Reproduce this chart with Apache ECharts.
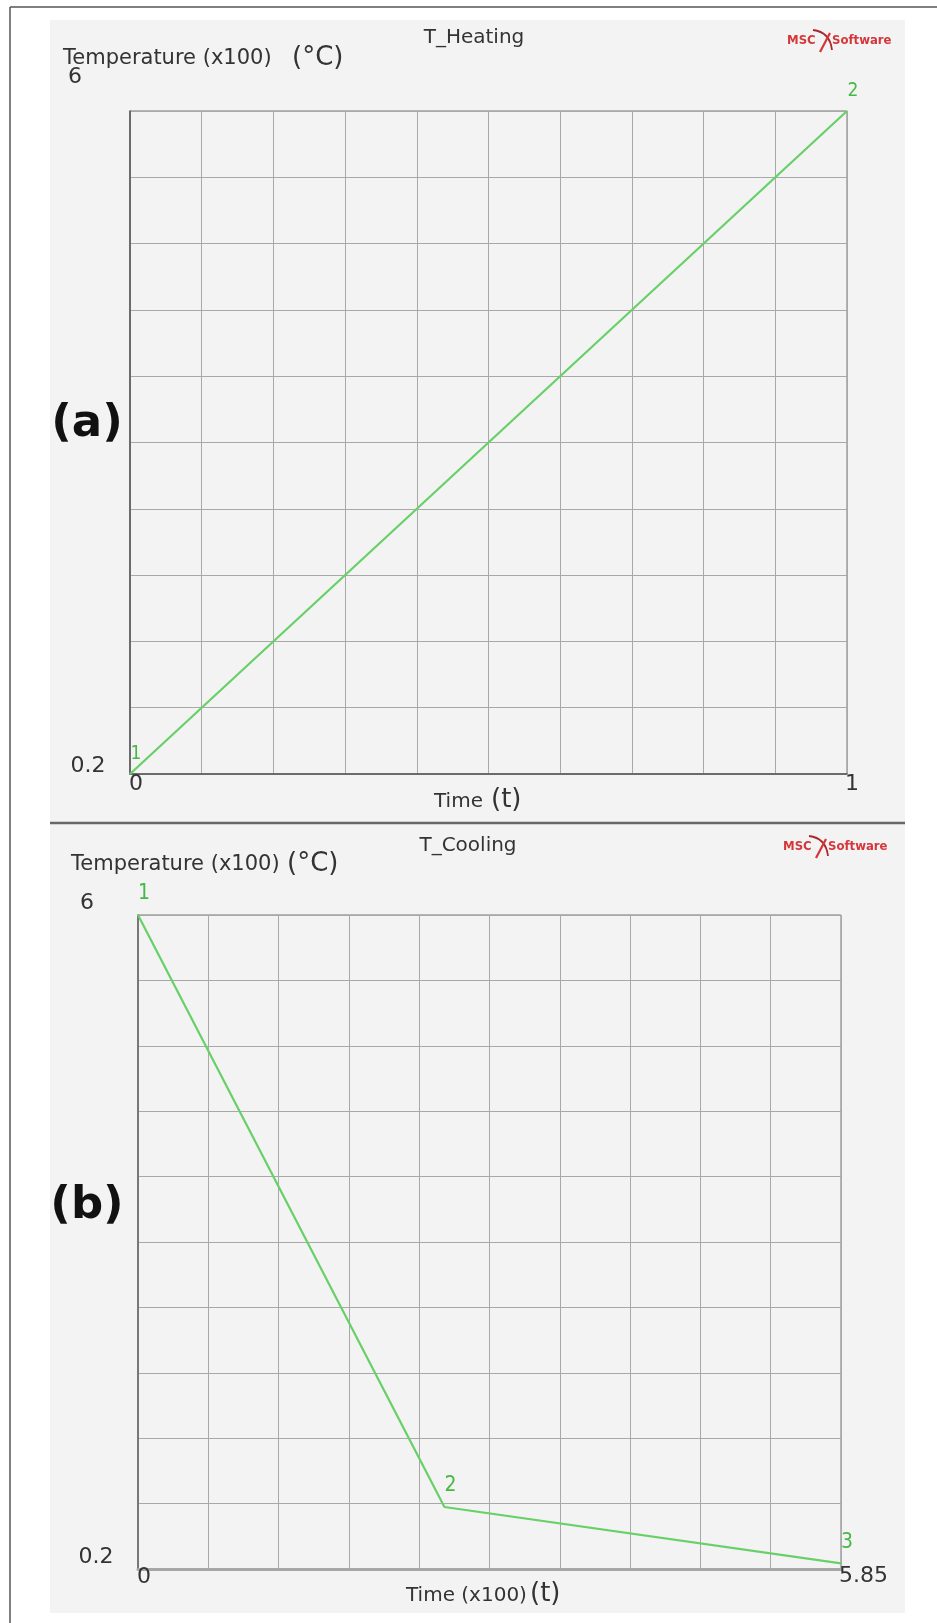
<!DOCTYPE html>
<html>
<head>
<meta charset="utf-8">
<script src="https://cdn.jsdelivr.net/npm/echarts@6/dist/echarts.min.js"></script>
<style>
  html, body { margin: 0; padding: 0; background: #ffffff; }
  #chart { width: 937px; height: 1623px; }
</style>
</head>
<body>
<div id="chart"></div>
<script>
// Heating step: temperature (x100 °C) over normalised time
const heatTime = [0, 1];
const heatTemp = [0.2, 6];
const heatPointNames = ['1', '2'];

// Cooling step: temperature (x100 °C) over time (x100)
const coolTime = [0, 2.55, 5.85];
const coolTemp = [6, 0.75, 0.25];
const coolPointNames = ['1', '2', '3'];

// Axis ranges and the end labels printed on them
const tempRange = [0.2, 6];
const tempTickLabels = ['0.2', '6'];
const heatTimeRange = [0, 1];
const heatTimeTickLabels = ['0', '1'];
const coolTimeRange = [0, 5.85];
const coolTimeTickLabels = ['0', '5.85'];
const gridDivisions = 10;

const FONT = '"DejaVu Sans", sans-serif';
const TEXT = '#333333';
const GREEN = '#68d068';
const GREEN_LABEL = '#45b845';

const chart = echarts.init(document.getElementById('chart'), null, { renderer: 'canvas', width: 937, height: 1623 });

function valueAxis(gridIndex, range, lineStyle) {
  return {
    type: 'value', gridIndex, min: range[0], max: range[1],
    axisLine: { show: true, onZero: false, lineStyle },
    axisTick: { show: false }, axisLabel: { show: false }, splitLine: { show: false }
  };
}
// 10 equal divisions drawn as split lines of a hidden 0..10 axis
function divisionAxis(gridIndex) {
  return {
    type: 'value', gridIndex, min: 0, max: gridDivisions, interval: 1,
    axisLine: { show: false }, axisTick: { show: false }, axisLabel: { show: false },
    splitLine: { show: true, lineStyle: { color: '#a8a8a8', width: 1 } }
  };
}
function curve(xIdx, yIdx, xs, ys, names, fontSize) {
  return {
    type: 'line', xAxisIndex: xIdx, yAxisIndex: yIdx,
    data: xs.map((x, i) => [x, ys[i]]),
    lineStyle: { color: GREEN, width: 2.2 },
    itemStyle: { color: GREEN },
    symbol: 'circle', symbolSize: 1,
    label: {
      show: true, position: 'top', distance: 0, offset: [6, -10],
      formatter: p => names[p.dataIndex],
      color: GREEN_LABEL, fontSize, fontFamily: '"Liberation Sans Narrow", "DejaVu Sans Condensed", sans-serif'
    },
    animation: false, silent: true, z: 5
  };
}

chart.setOption({
  animation: false,
  backgroundColor: '#ffffff',
  grid: [
    { left: 130, top: 111, width: 717, height: 663, show: true, borderColor: '#777', borderWidth: 1, backgroundColor: 'transparent' },
    { left: 138, top: 915, width: 703, height: 654, show: true, borderColor: '#777', borderWidth: 1, backgroundColor: 'transparent' }
  ],
  xAxis: [
    valueAxis(0, heatTimeRange, { color: '#555', width: 1.5 }),
    divisionAxis(0),
    valueAxis(1, coolTimeRange, { color: '#a6a6a6', width: 3 }),
    divisionAxis(1)
  ],
  yAxis: [
    valueAxis(0, tempRange, { color: '#555', width: 1.5 }),
    divisionAxis(0),
    valueAxis(1, tempRange, { color: '#666', width: 1.5 }),
    divisionAxis(1)
  ],
  series: [
    curve(0, 0, heatTime, heatTemp, heatPointNames, 19),
    curve(2, 2, coolTime, coolTemp, coolPointNames, 21)
  ]
});

function txt(x, y, text, size, opts) {
  opts = opts || {};
  return {
    type: 'text', x, y, z: 10,
    style: {
      text, fill: opts.fill || TEXT,
      font: (opts.weight || 'normal') + ' ' + size + 'px ' + (opts.family || FONT),
      textAlign: opts.align || 'left', textVerticalAlign: 'middle'
    }
  };
}
function logo(x, y) {
  const red = '#d5363a';
  const f = 'bold 13px "DejaVu Sans Condensed", "DejaVu Sans", sans-serif';
  return {
    type: 'group', x, y, z: 10,
    children: [
      { type: 'text', x: 0, y: 0, style: { text: 'MSC', fill: red, font: f, textAlign: 'left', textVerticalAlign: 'middle' } },
      { type: 'bezierCurve', shape: { x1: 26, y1: -11, x2: 45, y2: 9, cpx1: 43, cpy1: -9 }, style: { stroke: '#a8282c', lineWidth: 1.8, fill: null } },
      { type: 'line', shape: { x1: 43, y1: -8, x2: 33, y2: 11 }, style: { stroke: red, lineWidth: 2.2 } },
      { type: 'text', x: 45, y: 0, style: { text: 'Software', fill: red, font: f, textAlign: 'left', textVerticalAlign: 'middle' } }
    ]
  };
}

// End labels placed from the axes' own pixel positions
const pA0 = chart.convertToPixel({ seriesIndex: 0 }, [heatTimeRange[0], tempRange[0]]);
const pA1 = chart.convertToPixel({ seriesIndex: 0 }, [heatTimeRange[1], tempRange[1]]);
const pB0 = chart.convertToPixel({ seriesIndex: 1 }, [coolTimeRange[0], tempRange[0]]);
const pB1 = chart.convertToPixel({ seriesIndex: 1 }, [coolTimeRange[1], tempRange[1]]);

chart.setOption({
  graphic: [
    // page frame and the light panel behind both plots
    { type: 'rect', shape: { x: 50, y: 20, width: 855, height: 1593 }, style: { fill: '#f3f3f3' }, z: -10 },
    { type: 'line', shape: { x1: 10, y1: 7, x2: 937, y2: 7 }, style: { stroke: '#555', lineWidth: 1.5 }, z: 10 },
    { type: 'line', shape: { x1: 10, y1: 7, x2: 10, y2: 1623 }, style: { stroke: '#555', lineWidth: 1.5 }, z: 10 },
    { type: 'line', shape: { x1: 50, y1: 823, x2: 905, y2: 823 }, style: { stroke: '#686868', lineWidth: 2.5 }, z: 10 },

    // (a) heating
    txt(474, 38, 'T_Heating', 20, { align: 'center' }),
    logo(787, 41),
    txt(63, 59, 'Temperature (x100)', 21),
    txt(292, 58, '(°C)', 26),
    txt(87, 424, '(a)', 45, { weight: 'bold', align: 'center', fill: '#111' }),
    txt(pA0[0] - 55, pA1[1] - 34, tempTickLabels[1], 22, { align: 'center' }),
    txt(pA0[0] - 42, pA0[1] - 8, tempTickLabels[0], 22, { align: 'center' }),
    txt(pA0[0] + 6, pA0[1] + 10, heatTimeTickLabels[0], 22, { align: 'center' }),
    txt(pA1[0] + 5, pA0[1] + 10, heatTimeTickLabels[1], 22, { align: 'center' }),
    txt(434, 802, 'Time', 20),
    txt(491, 800, '(t)', 26),

    // (b) cooling
    txt(468, 846, 'T_Cooling', 20, { align: 'center' }),
    logo(783, 847),
    txt(71, 865, 'Temperature (x100)', 21),
    txt(287, 864, '(°C)', 26),
    txt(87, 1206, '(b)', 45, { weight: 'bold', align: 'center', fill: '#111' }),
    txt(pB0[0] - 51, pB1[1] - 12, tempTickLabels[1], 22, { align: 'center' }),
    txt(pB0[0] - 42, pB0[1] - 12, tempTickLabels[0], 22, { align: 'center' }),
    txt(pB0[0] + 6, pB0[1] + 8, coolTimeTickLabels[0], 22, { align: 'center' }),
    txt(pB1[0] - 2, pB0[1] + 7, coolTimeTickLabels[1], 22),
    txt(406, 1596, 'Time (x100)', 20),
    txt(530, 1594, '(t)', 26)
  ]
});
</script>
</body>
</html>
